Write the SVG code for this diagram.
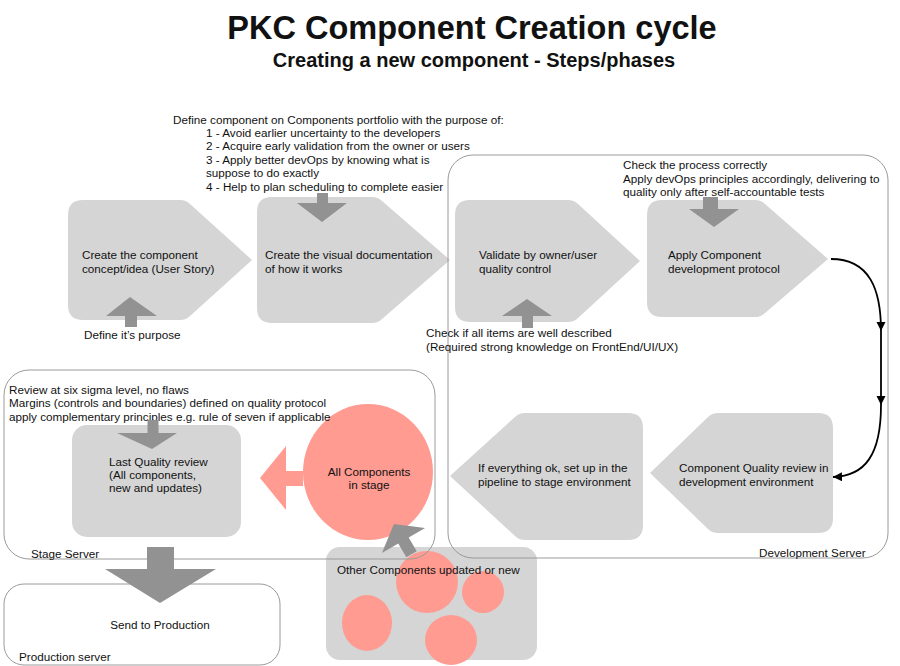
<svg xmlns="http://www.w3.org/2000/svg" width="900" height="666" viewBox="0 0 900 666">
<style>
text{font-family:"Liberation Sans",Arial,Helvetica,sans-serif;font-size:11.7px;fill:#111}
.title{font-size:32.5px;font-weight:bold;text-anchor:middle}
.sub{font-size:20px;font-weight:bold;text-anchor:middle}
.node{fill:#d5d5d5}
.garrow{fill:#929292}
.salmon{fill:#ff9b91}
.box{fill:none;stroke:#9a9a9a;stroke-width:1}
.conn{fill:none;stroke:#000;stroke-width:1.8}
.mid{text-anchor:middle}
</style>
<defs>
<marker id="ah" markerWidth="10" markerHeight="10" refX="9" refY="4.5" orient="auto" markerUnits="userSpaceOnUse">
<path d="M0,0 L9,4.5 L0,9 Z" fill="#000"/>
</marker>
</defs>
<rect width="900" height="666" fill="#fff"/>

<text class="title" x="472" y="39">PKC Component Creation cycle</text>
<text class="sub" x="474" y="67">Creating a new component - Steps/phases</text>

<g id="other-components">
<rect x="326" y="547" width="211" height="113" rx="14" fill="#d5d5d5"/>
<circle class="salmon" cx="427" cy="582" r="31"/>
<circle class="salmon" cx="483" cy="592" r="21"/>
<ellipse class="salmon" cx="367" cy="623" rx="25" ry="28"/>
<ellipse class="salmon" cx="451" cy="640" rx="26" ry="25"/>
<text x="337" y="574">Other Components updated or new</text>
</g>

<g id="node-create-concept">
<path class="node" d="M83,200 H180 Q186,200 190,204 L252,260 L190,316 Q186,320 180,320 H83 Q68,320 68,305 V215 Q68,200 83,200 Z"/>
<text x="82" y="259">Create the component</text>
<text x="82" y="273">concept/idea (User Story)</text>
</g>

<g id="node-visual-doc">
<path class="node" d="M272,197 H372 Q378,197 382,201 L450,260 L382,319 Q378,323 372,323 H272 Q257,323 257,308 V212 Q257,197 272,197 Z"/>
<text x="265" y="259">Create the visual documentation</text>
<text x="265" y="273">of how it works</text>
</g>

<g id="node-validate">
<path class="node" d="M470,200 H568 Q574,200 578,204 L640,261 L578,318 Q574,322 568,322 H470 Q455,322 455,307 V215 Q455,200 470,200 Z"/>
<text x="479" y="258.5">Validate by owner/user</text>
<text x="479" y="272.5">quality control</text>
</g>

<g id="node-apply-protocol">
<path class="node" d="M662,200 H755 Q761,200 765,204 L828,259 L765,313 Q761,317 755,317 H662 Q647,317 647,302 V215 Q647,200 662,200 Z"/>
<text x="668" y="258.5">Apply Component</text>
<text x="668" y="272.5">development protocol</text>
</g>

<g id="node-dev-review">
<path class="node" d="M818,413 Q833,413 833,428 V518 Q833,533 818,533 H718 Q712,533 708,529 L650,473 L708,417 Q712,413 718,413 Z"/>
<text x="679" y="472">Component Quality review in</text>
<text x="679" y="486">development environment</text>
</g>

<g id="node-pipeline">
<path class="node" d="M628,413 Q643,413 643,428 V525 Q643,540 628,540 H525 Q519,540 515,536 L450,476 L515,417 Q519,413 525,413 Z"/>
<text x="478" y="472">If everything ok, set up in the</text>
<text x="478" y="486">pipeline to stage environment</text>
</g>

<g id="node-last-review">
<rect class="node" x="72" y="425" width="169" height="112" rx="15"/>
<text x="109" y="466">Last Quality review</text>
<text x="109" y="479">(All components,</text>
<text x="109" y="492">new and updates)</text>
</g>

<g id="node-all-components">
<ellipse class="salmon" cx="368" cy="472" rx="65" ry="68"/>
<text class="mid" x="369" y="476">All Components</text>
<text class="mid" x="369" y="489">in stage</text>
</g>

<g id="node-production">
<rect class="box" x="4" y="584" width="276" height="81" rx="20"/>
<text class="mid" x="160" y="629">Send to Production</text>
<text x="19" y="661">Production server</text>
</g>

<g id="container-dev">
<rect class="box" x="448" y="155" width="440" height="403" rx="25"/>
<text x="759" y="557">Development Server</text>
</g>

<g id="container-stage">
<rect class="box" x="4" y="370" width="431" height="189" rx="25"/>
<text x="31" y="558">Stage Server</text>
</g>

<g id="annotations">
<text x="173" y="123.5">Define component on Components portfolio with the purpose of:</text>
<text x="206" y="137">1 - Avoid earlier uncertainty to the developers</text>
<text x="206" y="150.4">2 - Acquire early validation from the owner or users</text>
<text x="206" y="163.8">3 - Apply better devOps by knowing what is</text>
<text x="206" y="177.2">suppose to do exactly</text>
<text x="206" y="190.6">4 - Help to plan scheduling to complete easier</text>
<text x="84" y="339">Define it’s purpose</text>
<text x="426" y="337">Check if all items are well described</text>
<text x="426" y="351">(Required strong knowledge on FrontEnd/UI/UX)</text>
<text x="623" y="169">Check the process correctly</text>
<text x="623" y="182.5">Apply devOps principles accordingly, delivering to</text>
<text x="623" y="196">quality only after self-accountable tests</text>
<text x="9" y="393.5">Review at six sigma level, no flaws</text>
<text x="9" y="407">Margins (controls and boundaries) defined on quality protocol</text>
<text x="9" y="420.5">apply complementary principles e.g. rule of seven if applicable</text>
</g>

<g id="connectors">
<polygon class="garrow" points="317,193 328,193 328,203 347,203 322,222 297,203 317,203"/>
<polygon class="garrow" points="130,297 157,316 137,316 137,327 125,327 125,316 106,316"/>
<polygon class="garrow" points="527,299 552,316 533,316 533,328 522,328 522,316 502,316"/>
<polygon class="garrow" points="703,197 718,197 718,209 739,209 714,227 689,209 703,209"/>
<polygon class="garrow" points="147.5,420 158.5,420 158.5,433 177,433 152,449 117,433 147.5,433"/>
<polygon class="garrow" points="147,547 174,547 174,569 216,569 160,603 105,569 147,569"/>
<polygon class="salmon" points="260,478 286,446 286,471 303,471 303,486 286,486 286,510"/>
<polygon class="garrow" points="393.9,524.1 425.1,527.9 408.7,537.5 416.7,551.3 406.3,557.3 398.3,543.5 381.9,553.1"/>
<path class="conn" d="M831,259 C870,259 881,290 881,331" marker-end="url(#ah)"/>
<path class="conn" d="M881,331 L881,405" marker-end="url(#ah)"/>
<path class="conn" d="M881,405 C881,455 865,476 833,477" marker-end="url(#ah)"/>
</g>
</svg>
